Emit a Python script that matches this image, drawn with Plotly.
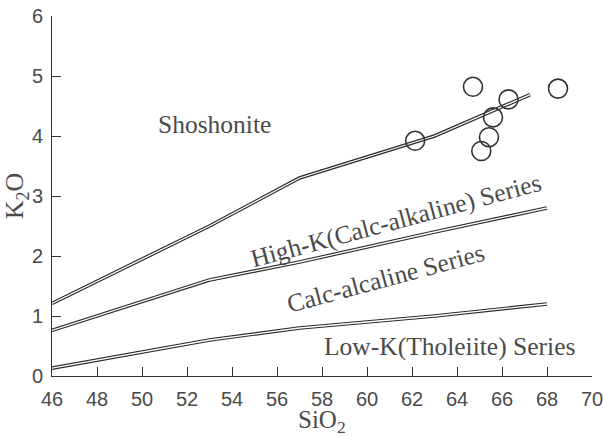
import plotly.graph_objects as go

# Boundary lines (Peccerillo & Taylor style)
sho_x = [46, 53, 57, 63, 67.25]
sho_y = [1.21, 2.5, 3.3, 4.0, 4.69]
hk_x = [46, 53, 57, 63, 68]
hk_y = [0.76, 1.6, 1.9, 2.4, 2.8]
lk_x = [46, 53, 57, 63, 68]
lk_y = [0.13, 0.6, 0.8, 1.0, 1.2]

# Samples
sio2 = [64.71, 68.49, 66.29, 65.60, 65.42, 65.08, 62.14]
k2o = [4.82, 4.79, 4.61, 4.31, 3.98, 3.75, 3.92]

x_ticks = list(range(46, 71, 2))
y_ticks = list(range(0, 7))

fig = go.Figure()
for xs, ys in [(sho_x, sho_y), (hk_x, hk_y), (lk_x, lk_y)]:
    fig.add_trace(go.Scatter(x=xs, y=ys, mode="lines",
                             line=dict(color="#2a2a2a", width=3.6),
                             hoverinfo="skip", showlegend=False))
    fig.add_trace(go.Scatter(x=xs, y=ys, mode="lines",
                             line=dict(color="white", width=1.3),
                             hoverinfo="skip", showlegend=False))

fig.add_trace(go.Scatter(x=sio2, y=k2o, mode="markers",
                         marker=dict(symbol="circle-open", size=19,
                                     line=dict(color="#333", width=1.6),
                                     color="#333"),
                         showlegend=False))

serif = "Liberation Serif, Times New Roman, serif"
lab_col = "#4a4a4a"
labels = [
    ("Shoshonite", 53.2, 4.19, 0),
    ("High-K(Calc-alkaline) Series", 61.3, 2.6, -15),
    ("Calc-alcaline Series", 60.8, 1.63, -15),
    ("Low-K(Tholeiite) Series", 63.65, 0.5, 0),
]
for t, x, y, a in labels:
    fig.add_annotation(x=x, y=y, text=t, textangle=a, showarrow=False,
                       font=dict(family=serif, size=25.5, color=lab_col),
                       xanchor="center", yanchor="middle")

fig.add_annotation(x=0.5, y=-0.125, xref="paper", yref="paper",
                   text="SiO<sub>2</sub>", showarrow=False,
                   font=dict(family=serif, size=25, color=lab_col),
                   xanchor="center", yanchor="middle")
fig.add_annotation(x=-0.066, y=0.5, xref="paper", yref="paper",
                   text="K<sub>2</sub>O", textangle=-90, showarrow=False,
                   font=dict(family=serif, size=26, color=lab_col),
                   xanchor="center", yanchor="middle")

axis_common = dict(showgrid=False, zeroline=False, showline=True,
                   linecolor="#333", linewidth=1, ticks="inside",
                   ticklen=9, tickcolor="#333", tickwidth=1,
                   ticklabeloverflow="allow", automargin=False,
                   tickfont=dict(family="Liberation Sans, Arial, sans-serif",
                                 size=20, color=lab_col))
fig.update_xaxes(range=[46, 70], tickvals=x_ticks, ticklabelstandoff=5,
                 **axis_common)
fig.update_yaxes(range=[0, 6], tickvals=y_ticks, ticklabelstandoff=4,
                 **axis_common)

fig.update_layout(width=603, height=436,
                  margin=dict(l=52, r=11, t=16, b=60, autoexpand=False),
                  plot_bgcolor="white", paper_bgcolor="white")

fig.write_html("out.html")
